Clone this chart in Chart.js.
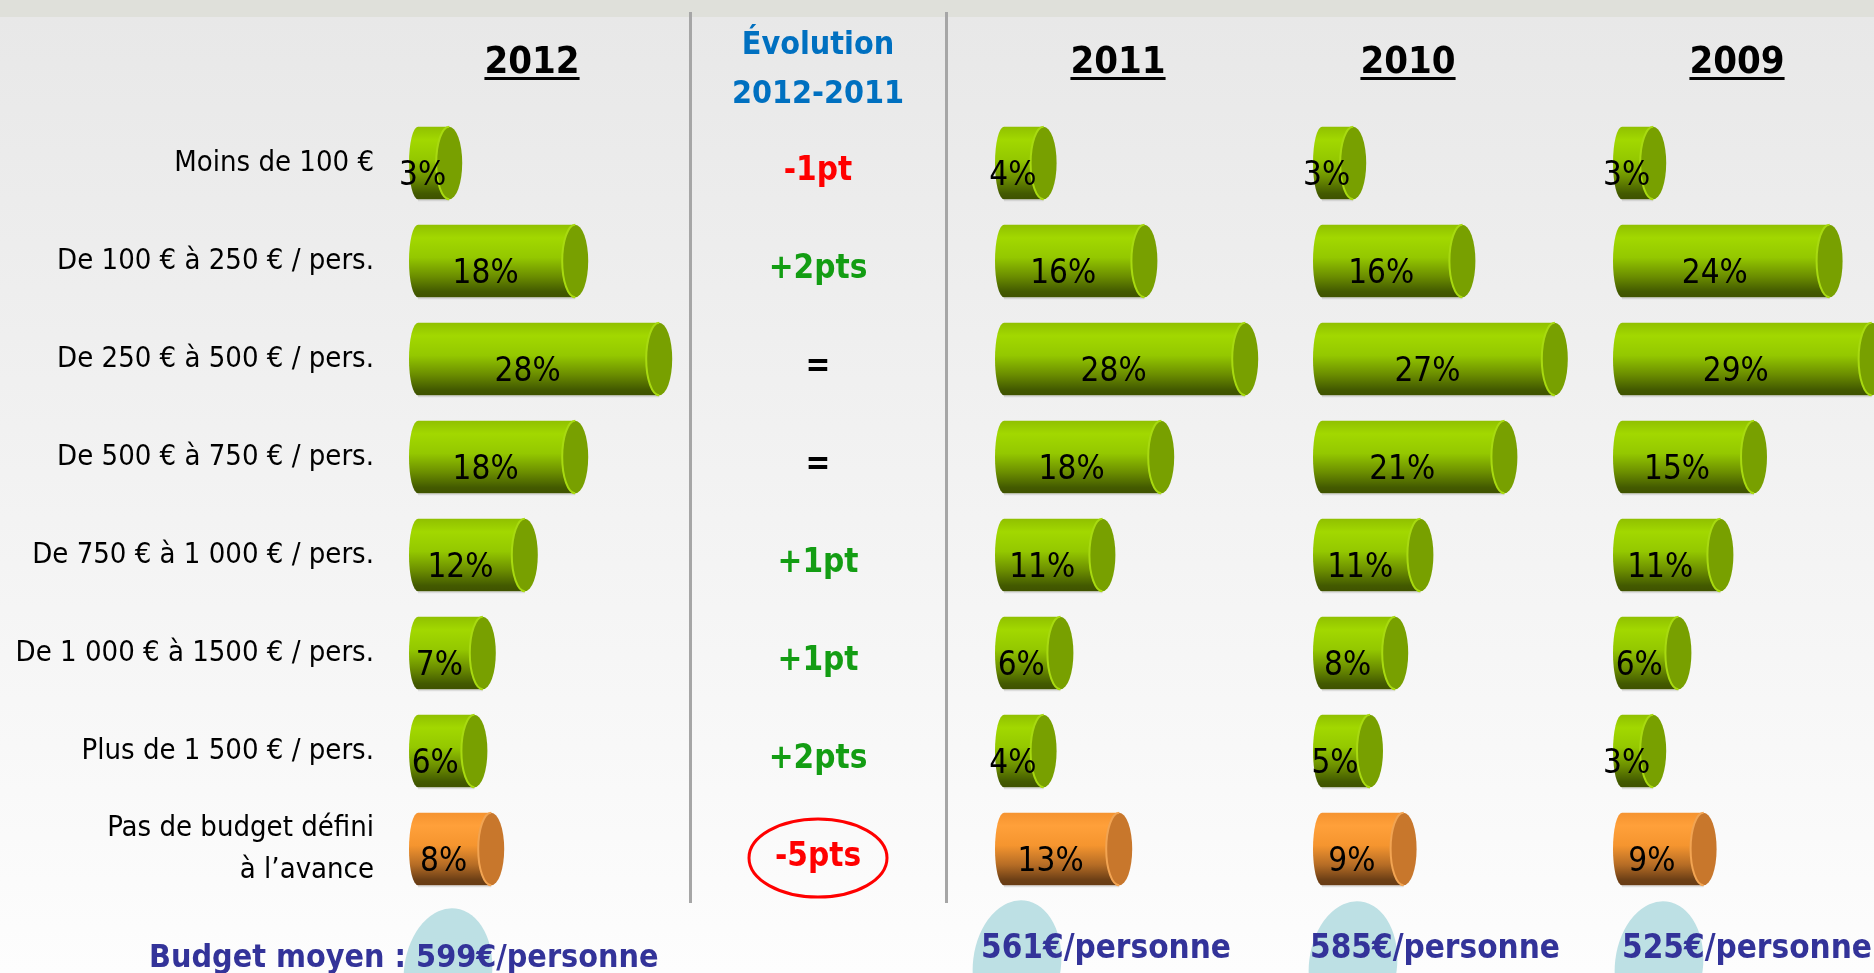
<!DOCTYPE html>
<html lang="fr">
<head>
<meta charset="utf-8">
<title>Budget par personne</title>
<script src="https://cdn.jsdelivr.net/npm/chart.js@4.4.1/dist/chart.umd.min.js"></script>
<style>
  html, body { margin: 0; padding: 0; }
  body { width: 1874px; height: 973px; overflow: hidden; position: relative; background: #f4f4f4; }
  canvas { position: absolute; left: 0; top: 0; }
</style>
</head>
<body>
<canvas id="chart2012" width="1874" height="973"></canvas>
<canvas id="chart2011" width="1874" height="973"></canvas>
<canvas id="chart2010" width="1874" height="973"></canvas>
<canvas id="chart2009" width="1874" height="973"></canvas>
<script>
// données
const categories = [
  'Moins de 100 €',
  'De 100 € à 250 € / pers.',
  'De 250 € à 500 € / pers.',
  'De 500 € à 750 € / pers.',
  'De 750 € à 1 000 € / pers.',
  'De 1 000 € à 1500 € / pers.',
  'Plus de 1 500 € / pers.',
  ['Pas de budget défini', 'à l’avance']
];
const years = ['2012', '2011', '2010', '2009'];
const data2012 = [3, 18, 28, 18, 12, 7, 6, 8];
const data2011 = [4, 16, 28, 18, 11, 6, 4, 13];
const data2010 = [3, 16, 27, 21, 11, 8, 5, 9];
const data2009 = [3, 24, 29, 15, 11, 6, 3, 9];
const evolution = ['-1pt', '+2pts', '=', '=', '+1pt', '+1pt', '+2pts', '-5pts'];
const budgets = [599, 561, 585, 525];

const W = 1874, H = 973;
const PLOT_TOP = 114, PLOT_BOTTOM = 898;
const PX_PER_PCT = 8.4;
const START = -28 / PX_PER_PCT;   // le bout arrondi mange ~28px
const CAP_RX = 13;
const LEFT_RX = 9;
const FONT = '"DejaVu Sans Condensed", "DejaVu Sans", sans-serif';

// position de chaque panneau (bord gauche des barres, bord droit, centre du titre, texte du bas)
const panels = [
  { id: 'chart2012', values: data2012, left: 409, right: 690, head: 532, coinX: 448, coinTop: 908, textX: 149, textY: 967, textSize: 32 },
  { id: 'chart2011', values: data2011, left: 995, right: 1300, head: 1118, coinX: 1017, coinTop: 900, textX: 981, textY: 958, textSize: 33 },
  { id: 'chart2010', values: data2010, left: 1313, right: 1600, head: 1408, coinX: 1353, coinTop: 901, textX: 1310, textY: 958, textSize: 33 },
  { id: 'chart2009', values: data2009, left: 1613, right: 1874, head: 1737, coinX: 1659, coinTop: 901, textX: 1622, textY: 958, textSize: 33 }
];

const GREEN = {
  body: [[0, '#90c000'], [0.18, '#a2d800'], [0.45, '#94c800'], [0.72, '#6a8c00'], [0.92, '#435a00'], [1, '#3f5200']],
  cap: '#78a000', rim: '#a8da10'
};
const ORANGE = {
  body: [[0, '#f59330'], [0.18, '#ffa03a'], [0.45, '#f5952f'], [0.72, '#b56c25'], [0.92, '#6e4016'], [1, '#683c14']],
  cap: '#c8772c', rim: '#f2a452'
};

// dessine les barres en cylindres avec leur pourcentage
const cylinders = {
  id: 'cylinders',
  afterDatasetsDraw(chart) {
    const ctx = chart.ctx;
    const ds = chart.data.datasets[0];
    chart.getDatasetMeta(0).data.forEach((bar, i) => {
      const { x, y, base, height } = bar.getProps(['x', 'y', 'base', 'height'], true);
      const pal = ds.palette[i] === 'orange' ? ORANGE : GREEN;
      const top = y - height / 2, bot = y + height / 2;
      const rx = CAP_RX, ry = height / 2;
      const x0 = base, x1 = x;
      ctx.save();
      // ombre sous la barre
      ctx.fillStyle = 'rgba(0,0,0,0.10)';
      ctx.fillRect(x0 + LEFT_RX, bot, x1 - x0 - LEFT_RX - rx, 2);
      // corps
      const g = ctx.createLinearGradient(0, top, 0, bot);
      pal.body.forEach(([o, c]) => g.addColorStop(o, c));
      ctx.beginPath();
      ctx.moveTo(x0 + LEFT_RX, top);
      ctx.lineTo(x1 - rx, top);
      ctx.lineTo(x1 - rx, bot);
      ctx.lineTo(x0 + LEFT_RX, bot);
      ctx.ellipse(x0 + LEFT_RX, y, LEFT_RX, ry, 0, Math.PI / 2, Math.PI * 3 / 2);
      ctx.closePath();
      ctx.fillStyle = g;
      ctx.fill();
      // couvercle
      ctx.beginPath();
      ctx.ellipse(x1 - rx, y, rx, ry, 0, 0, Math.PI * 2);
      ctx.fillStyle = pal.cap;
      ctx.fill();
      ctx.beginPath();
      ctx.ellipse(x1 - rx, y, rx, ry, 0, Math.PI / 2, Math.PI * 3 / 2);
      ctx.strokeStyle = pal.rim;
      ctx.lineWidth = 2;
      ctx.stroke();
      // étiquette
      ctx.fillStyle = '#000';
      ctx.font = '33px ' + FONT;
      ctx.textAlign = 'center';
      ctx.textBaseline = 'alphabetic';
      ctx.fillText(ds.data[i] + '%', (x0 + x1 - 2 * rx) / 2, y + 22);
      ctx.restore();
    });
  }
};

// fond, séparateurs, titres, colonne évolution, budget moyen
const decor = {
  id: 'decor',
  beforeDraw(chart) {
    const ctx = chart.ctx;
    ctx.save();
    const bg = ctx.createLinearGradient(0, 17, 0, H);
    bg.addColorStop(0, '#e8e8e8');
    bg.addColorStop(1, '#fdfdfd');
    ctx.fillStyle = bg;
    ctx.fillRect(0, 0, W, H);
    ctx.fillStyle = '#dfe0da';
    ctx.fillRect(0, 0, W, 17);
    ctx.fillStyle = '#a6a6a6';
    ctx.fillRect(689, 12, 3, 891);
    ctx.fillRect(945, 12, 3, 891);
    ctx.fillStyle = '#bde0e4';
    panels.forEach(p => {
      ctx.beginPath();
      ctx.ellipse(p.coinX, p.coinTop + 64, 44, 64, 0.12, 0, Math.PI * 2);
      ctx.fill();
    });
    ctx.restore();
  },
  afterDraw(chart) {
    const ctx = chart.ctx;
    const yScale = chart.scales.y;
    ctx.save();
    ctx.textBaseline = 'alphabetic';
    ctx.textAlign = 'center';
    // années
    ctx.font = 'bold 38px ' + FONT;
    ctx.fillStyle = '#000';
    panels.forEach((p, i) => {
      ctx.fillText(years[i], p.head, 73);
      const w = ctx.measureText(years[i]).width;
      ctx.fillRect(p.head - w / 2, 77, w, 3);
    });
    // colonne évolution
    ctx.font = 'bold 32px ' + FONT;
    ctx.fillStyle = '#0070c0';
    ctx.fillText('Évolution', 818, 54);
    ctx.fillText('2012-2011', 818, 103);
    ctx.font = 'bold 33px ' + FONT;
    evolution.forEach((txt, i) => {
      const yc = yScale.getPixelForValue(i);
      ctx.fillStyle = txt[0] === '-' ? '#ff0000' : txt[0] === '+' ? '#139d13' : '#000';
      ctx.fillText(txt, 818, yc + 17);
      if (i === evolution.length - 1) {
        ctx.beginPath();
        ctx.ellipse(818, yc + 9, 69, 39, 0, 0, Math.PI * 2);
        ctx.strokeStyle = '#ff0000';
        ctx.lineWidth = 3;
        ctx.stroke();
      }
    });
    // budget moyen
    ctx.fillStyle = '#333399';
    ctx.textAlign = 'left';
    panels.forEach((p, i) => {
      ctx.font = 'bold ' + p.textSize + 'px ' + FONT;
      const txt = (i === 0 ? 'Budget moyen : ' : '') + budgets[i] + '€/personne';
      ctx.fillText(txt, p.textX, p.textY);
    });
    ctx.restore();
  }
};

panels.forEach((p, idx) => {
  const first = idx === 0;
  new Chart(document.getElementById(p.id), {
    type: 'bar',
    data: {
      labels: categories,
      datasets: [{
        label: years[idx],
        data: p.values,
        palette: categories.map((c, i) => i === categories.length - 1 ? 'orange' : 'green'),
        backgroundColor: 'rgba(0,0,0,0)',
        base: START,
        barPercentage: 0.74,
        categoryPercentage: 1
      }]
    },
    options: {
      indexAxis: 'y',
      responsive: false,
      animation: false,
      events: [],
      layout: {
        padding: { left: first ? 0 : p.left, right: W - p.right, top: PLOT_TOP, bottom: H - PLOT_BOTTOM }
      },
      plugins: { legend: { display: false }, tooltip: { enabled: false } },
      scales: {
        x: { display: false, min: START, max: (p.right - p.left) / PX_PER_PCT + START },
        y: {
          display: first,
          grid: { display: false, drawTicks: false },
          border: { display: false },
          ticks: { color: '#000', font: { family: FONT, size: 29, lineHeight: 1.45 }, padding: 35 },
          afterFit: first ? (s) => { s.width = p.left; } : undefined
        }
      }
    },
    plugins: first ? [decor, cylinders] : [cylinders]
  });
});
</script>
</body>
</html>
